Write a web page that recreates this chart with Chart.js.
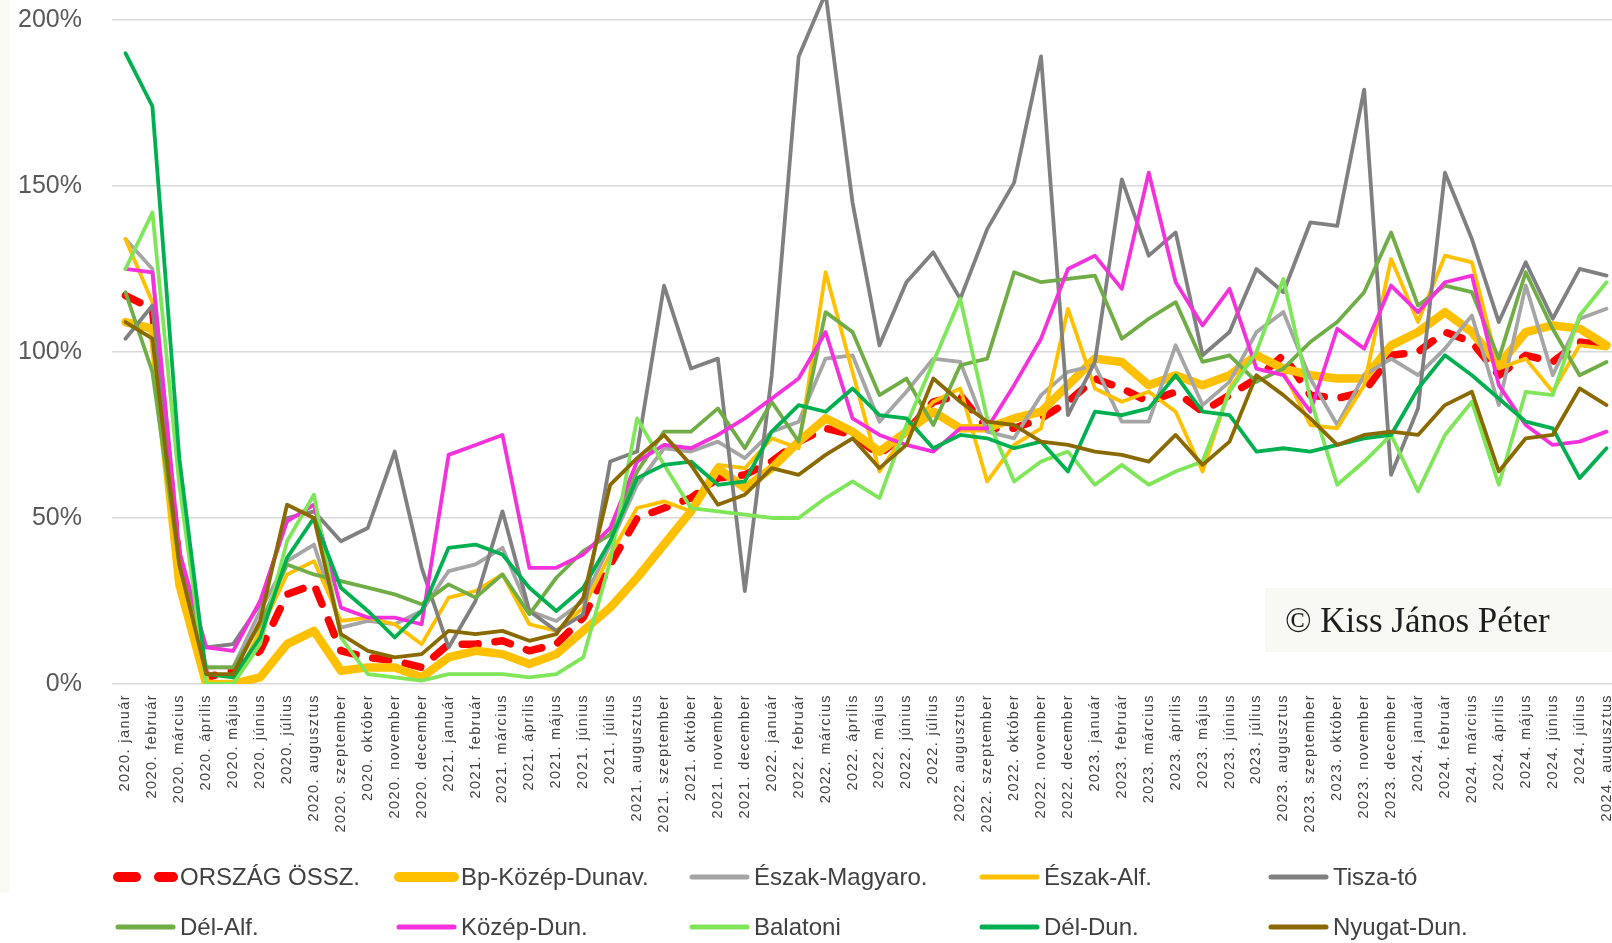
<!DOCTYPE html>
<html>
<head>
<meta charset="utf-8">
<script src="https://cdn.jsdelivr.net/npm/chart.js@4.4.1/dist/chart.umd.min.js"></script>
<style>
  html, body { margin: 0; padding: 0; background: #fff; overflow: hidden; }
  #wrap { position: relative; width: 1612px; height: 943px; overflow: hidden; }
  canvas { display: block; }
</style>
</head>
<body>
<div id="wrap"><canvas id="regionChart" width="1620" height="943"></canvas></div>
<script>
const years = [2020, 2021, 2022, 2023, 2024];
const months = ['január', 'február', 'március', 'április', 'május', 'június',
  'július', 'augusztus', 'szeptember', 'október', 'november', 'december'];
const categories = [];
years.forEach(y => months.forEach((m, i) => {
  if (y < 2024 || i < 8) categories.push(y + '. ' + m);
}));

const seriesNames = ['ORSZÁG ÖSSZ.', 'Bp-Közép-Dunav.', 'Észak-Magyaro.', 'Észak-Alf.', 'Tisza-tó',
  'Dél-Alf.', 'Közép-Dun.', 'Balatoni', 'Dél-Dun.', 'Nyugat-Dun.'];

const orszag = [117, 113, 36, 2, 4, 10, 27, 30, 10, 8, 7, 5,
  12, 12, 13, 10, 12, 20, 36, 50, 53, 56, 62, 63,
  67, 73, 77, 75, 69, 76, 85, 87, 77, 77, 80, 85,
  92, 89, 85, 88, 82, 87, 92, 99, 87, 86, 88, 99,
  100, 106, 103, 93, 99, 97, 103, 102];
const bpKozep = [109, 107, 30, 0, 0, 2, 12, 16, 4, 5, 5, 2,
  8, 10, 9, 6, 9, 16, 23, 32, 42, 52, 65, 59,
  65, 73, 80, 76, 70, 76, 82, 77, 77, 80, 82, 90,
  98, 97, 90, 93, 90, 93, 99, 95, 93, 92, 92, 102,
  106, 112, 106, 96, 106, 108, 107, 102];
const eszakMagyar = [134, 125, 38, 5, 5, 22, 37, 42, 17, 19, 18, 22,
  34, 36, 41, 22, 19, 25, 42, 60, 71, 70, 73, 68,
  76, 79, 98, 99, 79, 88, 98, 97, 76, 74, 87, 94,
  96, 79, 79, 102, 84, 91, 106, 112, 92, 78, 93, 98,
  93, 101, 111, 84, 120, 93, 110, 113];
const eszakAlf = [134, 115, 30, 0, 0, 16, 33, 37, 19, 20, 18, 12,
  26, 28, 33, 18, 16, 23, 39, 53, 55, 52, 66, 65,
  74, 71, 124, 94, 64, 76, 85, 89, 61, 72, 77, 113,
  89, 85, 88, 82, 64, 89, 100, 94, 78, 77, 90, 128,
  109, 129, 127, 95, 98, 88, 102, 101];
const tiszaTo = [104, 114, 38, 11, 12, 24, 50, 52, 43, 47, 70, 35,
  11, 25, 52, 22, 16, 21, 67, 70, 120, 95, 98, 28,
  93, 189, 208, 145, 102, 121, 130, 116, 137, 151, 189, 81,
  97, 152, 129, 136, 99, 106, 125, 118, 139, 138, 179, 63,
  83, 154, 134, 109, 127, 110, 125, 123];
const delAlf = [118, 94, 36, 5, 5, 18, 36, 33, 31, 29, 27, 24,
  30, 26, 33, 21, 32, 40, 45, 64, 76, 76, 83, 71,
  85, 73, 112, 106, 87, 92, 78, 96, 98, 124, 121, 122,
  123, 104, 110, 115, 97, 99, 91, 95, 103, 109, 118, 136,
  114, 120, 118, 98, 124, 107, 93, 97];
const kozepDun = [125, 124, 40, 11, 10, 25, 49, 54, 23, 20, 20, 18,
  69, 72, 75, 35, 35, 39, 47, 67, 72, 71, 75, 80,
  86, 92, 106, 80, 75, 72, 70, 77, 77, 90, 104, 125,
  129, 119, 154, 121, 108, 119, 95, 93, 82, 107, 101, 120,
  112, 121, 123, 90, 78, 72, 73, 76];
const balatoni = [125, 142, 60, 0, 0, 12, 43, 57, 14, 3, 2, 1,
  3, 3, 3, 2, 3, 8, 37, 80, 66, 53, 52, 51,
  50, 50, 56, 61, 56, 78, 97, 116, 80, 61, 67, 70,
  60, 66, 60, 64, 67, 88, 100, 122, 86, 60, 67, 75,
  58, 75, 85, 60, 88, 87, 111, 121];
const delDun = [190, 174, 68, 3, 2, 14, 38, 50, 29, 22, 14, 22,
  41, 42, 39, 29, 22, 29, 43, 62, 66, 67, 60, 61,
  76, 84, 82, 89, 81, 80, 71, 75, 74, 71, 73, 64,
  82, 81, 83, 93, 82, 81, 70, 71, 70, 72, 74, 75,
  89, 99, 93, 86, 79, 77, 62, 71];
const nyugatDun = [109, 104, 36, 3, 3, 19, 54, 50, 15, 10, 8, 9,
  16, 15, 16, 13, 15, 26, 60, 68, 75, 66, 54, 57,
  65, 63, 69, 74, 65, 72, 92, 85, 79, 78, 73, 72,
  70, 69, 67, 75, 66, 73, 93, 87, 80, 72, 75, 76,
  75, 84, 88, 64, 74, 75, 89, 84];

const yTicks = [0, 50, 100, 150, 200];

const seriesValues = [orszag, bpKozep, eszakMagyar, eszakAlf, tiszaTo,
  delAlf, kozepDun, balatoni, delDun, nyugatDun];
const colors = ['#FF0000', '#FFC000', '#A5A5A5', '#FFC000', '#808080',
  '#70AD47', '#F531DC', '#7FE65A', '#00B050', '#8A6A00'];

const datasets = seriesValues.map((vals, i) => ({
  label: seriesNames[i],
  data: vals,
  borderColor: colors[i],
  backgroundColor: colors[i],
  borderWidth: i === 0 ? 7.5 : (i === 1 ? 8.5 : 3.8),
  borderDash: i === 0 ? [16, 17] : [],
  borderCapStyle: 'round',
  borderJoinStyle: 'round',
  pointRadius: 0,
  tension: 0,
  order: 10 - i
}));

const legendCols = [113, 394, 687, 977, 1266];
const legendRows = [877, 927];

const decorPlugin = {
  id: 'decor',
  beforeDraw(chart) {
    const ctx = chart.ctx;
    ctx.save();
    ctx.fillStyle = '#F9FAF3';
    ctx.fillRect(0, 0, 10, 893);
    ctx.restore();
    ctx.letterSpacing = '1.4px';
  },
  beforeDatasetsDraw(chart) {
    chart.ctx.letterSpacing = '0px';
  },
  afterDraw(chart) {
    const ctx = chart.ctx;
    ctx.save();
    ctx.letterSpacing = '0px';
    // copyright box
    ctx.fillStyle = '#F8F9F3';
    ctx.fillRect(1265, 588, 360, 64);
    ctx.fillStyle = '#1E1E1E';
    ctx.font = '35px "Liberation Serif", "DejaVu Serif", serif';
    ctx.textBaseline = 'alphabetic';
    ctx.fillText('© Kiss János Péter', 1285, 632);
    // legend in a 5-column grid
    ctx.font = '24px "Liberation Sans", Arial, sans-serif';
    ctx.textBaseline = 'middle';
    chart.data.datasets.forEach((ds, i) => {
      const x = legendCols[i % 5];
      const y = legendRows[Math.floor(i / 5)];
      ctx.beginPath();
      ctx.strokeStyle = ds.borderColor;
      ctx.lineCap = 'round';
      if (i === 0) {
        ctx.lineWidth = 10;
        ctx.setLineDash([18, 23]);
      } else {
        ctx.lineWidth = i === 1 ? 10 : 5;
        ctx.setLineDash([]);
      }
      ctx.moveTo(x + 5, y);
      ctx.lineTo(x + 60, y);
      ctx.stroke();
      ctx.setLineDash([]);
      ctx.fillStyle = '#404040';
      ctx.fillText(ds.label, x + 67, y + 1);
    });
    ctx.restore();
  }
};

const ctx = document.getElementById('regionChart').getContext('2d');
const regionChart = new Chart(ctx, {
  type: 'line',
  data: { labels: categories, datasets: datasets },
  options: {
    responsive: false,
    animation: false,
    devicePixelRatio: 1,
    layout: { padding: 0 },
    plugins: {
      legend: { display: false },
      tooltip: { enabled: false }
    },
    scales: {
      x: {
        offset: true,
        grid: { display: false, drawTicks: false },
        border: { display: false },
        ticks: {
          autoSkip: false,
          minRotation: 90,
          maxRotation: 90,
          padding: 10,
          color: '#404040',
          font: { family: '"Liberation Sans", Arial, sans-serif', size: 14.5 }
        },
        afterFit(scale) {
          scale.height = 259;
          scale.paddingLeft = 0;
          scale.paddingRight = 0;
        }
      },
      y: {
        min: 0,
        max: 206,
        grid: { color: '#D9D9D9', lineWidth: 1.5, drawTicks: false },
        border: { display: false },
        afterBuildTicks(axis) {
          axis.ticks = yTicks.map(v => ({ value: v }));
        },
        ticks: {
          z: 1,
          padding: 30,
          color: '#595959',
          font: { family: '"Liberation Sans", Arial, sans-serif', size: 25 },
          callback: v => v + '%'
        },
        afterFit(scale) {
          scale.width = 112;
          scale.paddingTop = 0;
          scale.paddingBottom = 0;
        }
      }
    }
  },
  plugins: [decorPlugin]
});
</script>
</body>
</html>
